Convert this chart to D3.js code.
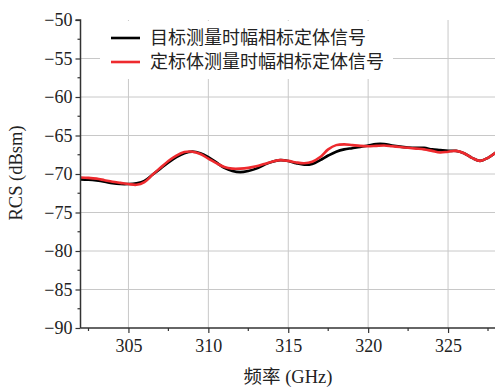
<!DOCTYPE html>
<html><head><meta charset="utf-8">
<script src="https://cdn.jsdelivr.net/npm/d3@7"></script>
<style>body{margin:0;background:#fff}svg{display:block}</style>
</head><body><svg id="c" width="495" height="387"></svg>
<script>
const freq = [302,302.5,303,303.5,304,304.5,305,305.5,306,306.5,307,307.5,308,308.5,309,309.5,310,310.5,311,311.5,312,312.5,313,313.5,314,314.5,315,315.5,316,316.5,317,317.5,318,318.5,319,319.5,320,320.5,321,321.5,322,322.5,323,323.5,324,324.5,325,325.5,326,326.5,327,327.5,328];
const targetSignal = [-70.7,-70.75,-70.85,-71.0,-71.2,-71.3,-71.3,-71.2,-70.9,-70.1,-69.3,-68.5,-67.8,-67.3,-67.1,-67.3,-67.8,-68.5,-69.2,-69.6,-69.75,-69.6,-69.3,-68.8,-68.4,-68.2,-68.3,-68.6,-68.8,-68.7,-68.2,-67.6,-67.1,-66.8,-66.65,-66.5,-66.3,-66.1,-66.1,-66.3,-66.45,-66.55,-66.6,-66.6,-66.8,-66.9,-67.0,-67.0,-67.3,-67.9,-68.3,-67.9,-67.2];
const calSignal = [-70.45,-70.5,-70.6,-70.8,-71.0,-71.15,-71.3,-71.4,-71.05,-70.1,-69.2,-68.3,-67.6,-67.15,-67.1,-67.4,-68.0,-68.6,-69.1,-69.3,-69.3,-69.2,-69.0,-68.7,-68.4,-68.2,-68.3,-68.5,-68.6,-68.4,-67.8,-66.8,-66.25,-66.15,-66.25,-66.35,-66.4,-66.35,-66.3,-66.4,-66.5,-66.6,-66.7,-66.8,-67.0,-67.2,-67.1,-67.0,-67.3,-67.9,-68.3,-67.9,-67.2];
const seriesNames = ["目标测量时幅相标定体信号","定标体测量时幅相标定体信号"];
const xTicks = [305,310,315,320,325];
const yTicks = [-90,-85,-80,-75,-70,-65,-60,-55,-50];
const xLabelCJK = "频率";
const xLabelUnit = " (GHz)";
const yLabel = "RCS (dBsm)";

const SERIF = '"Liberation Serif"';
const CJK = '"Noto Sans CJK SC"';
const svg = d3.select("#c");
const L = 80.5, R = 496, T = 20, B = 328;
const x = d3.scaleLinear().domain([302,328]).range([L,R]);
const y = d3.scaleLinear().domain([-90,-50]).range([B,T]);

// grid
const g = svg.append("g");
g.selectAll(".vg").data(xTicks).join("line")
  .attr("x1",d=>x(d)).attr("x2",d=>x(d)).attr("y1",T).attr("y2",B)
  .attr("stroke","#c8c8c8").attr("stroke-width",1);
g.selectAll(".hg").data(yTicks.filter(d=>d>-90&&d<-50)).join("line")
  .attr("x1",L).attr("x2",R).attr("y1",d=>y(d)).attr("y2",d=>y(d))
  .attr("stroke","#c8c8c8").attr("stroke-width",1);

// curves
svg.append("clipPath").attr("id","clip").append("rect").attr("x",L).attr("y",T).attr("width",R-L).attr("height",B-T);
const line = d3.line().x((d,i)=>x(freq[i])).y(d=>y(d)).curve(d3.curveCatmullRom.alpha(0.5));
const cg = svg.append("g").attr("clip-path","url(#clip)");
cg.append("path").attr("d",line(targetSignal)).attr("fill","none").attr("stroke","#000").attr("stroke-width",2.6);
cg.append("path").attr("d",line(calSignal)).attr("fill","none").attr("stroke","#ee2a2e").attr("stroke-width",2.6);

// axes
const fmt = d => d3.format("")(d);
const ya = svg.append("g").attr("transform",`translate(${L},0)`)
  .call(d3.axisLeft(y).tickValues(yTicks).tickSize(5).tickPadding(3).tickFormat(fmt));
const xa = svg.append("g").attr("transform",`translate(0,${B})`)
  .call(d3.axisBottom(x).tickValues(xTicks).tickSize(5).tickPadding(6).tickFormat(fmt));
const yMinor = d3.range(-87.5,-50,5);
const xMinor = [302.5,307.5,312.5,317.5,322.5,327.5];
ya.selectAll(".mn").data(yMinor).join("line").attr("x1",-3).attr("x2",0)
  .attr("y1",d=>y(d)).attr("y2",d=>y(d)).attr("stroke","#333").attr("stroke-width",1.2);
xa.selectAll(".mn").data(xMinor).join("line").attr("y1",0).attr("y2",3)
  .attr("x1",d=>x(d)).attr("x2",d=>x(d)).attr("stroke","#333").attr("stroke-width",1.2);
[ya,xa].forEach(a=>{
  a.select(".domain").attr("stroke","#333").attr("stroke-width",1.5);
  a.selectAll(".tick line").attr("stroke","#333").attr("stroke-width",1.2);
  a.selectAll(".tick text").style("font-family",SERIF).style("font-size","18px").attr("fill","#222");
});
ya.select(".domain").attr("d",`M-5,${T}H0V${B}`);
xa.select(".domain").attr("d",`M${L},0H${R}`);

// axis labels
svg.append("text").attr("transform",`translate(22,173) rotate(-90)`).attr("text-anchor","middle")
  .style("font-family",SERIF).style("font-size","18.5px").attr("fill","#222").text(yLabel);
const xl = svg.append("text").attr("x",288).attr("y",383).attr("text-anchor","middle")
  .style("font-family",SERIF).style("font-size","18.5px").attr("fill","#222");
xl.append("tspan").style("font-family",CJK).text(xLabelCJK);
xl.append("tspan").style("font-family",SERIF).text(xLabelUnit);

// legend
const lg = svg.append("g");
lg.append("rect").attr("x",100).attr("y",21).attr("width",293).attr("height",58).attr("fill","#fff");
const colors = ["#000","#ee2a2e"];
seriesNames.forEach((n,i)=>{
  const yy = 38 + i*24;
  lg.append("line").attr("x1",111).attr("x2",140).attr("y1",yy).attr("y2",yy).attr("stroke",colors[i]).attr("stroke-width",2.6);
  lg.append("text").attr("x",150).attr("y",yy).attr("dy","0.35em")
    .style("font-family",CJK).style("font-size","18px").attr("fill","#222").text(n);
});
</script></body></html>
